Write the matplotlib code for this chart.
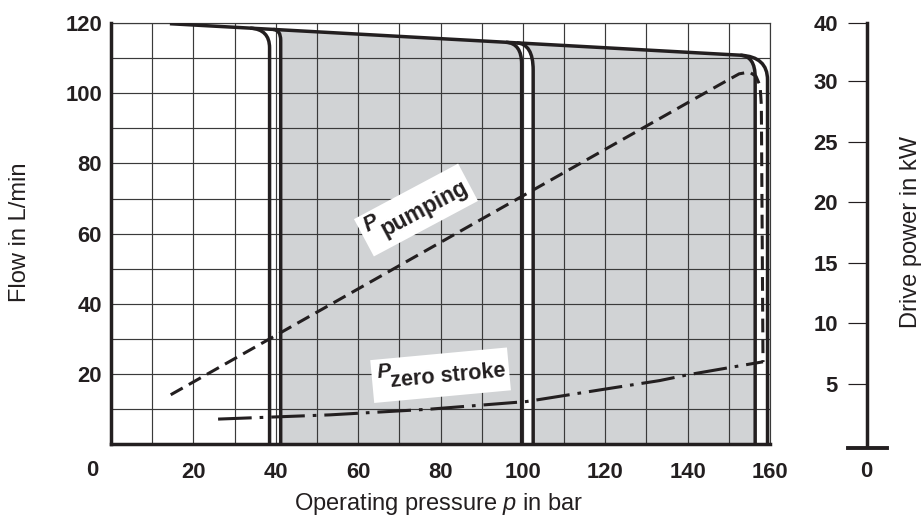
import numpy as np
import matplotlib
matplotlib.use("Agg")
import matplotlib.pyplot as plt
from matplotlib.path import Path
from matplotlib.patches import PathPatch, Rectangle
from matplotlib.transforms import Affine2D, ScaledTranslation

# ---------------- data ----------------
# top (flow) characteristic line: pressure in bar, flow in L/min
top_line_p = [14.3, 159.4]
top_line_q = [119.8, 110.4]

# pressure cut-off characteristics (pairs of curves)
cutoff_p = [38.5, 41.2, 99.7, 102.5, 156.4, 159.4]
corner_dp = [4.7, 1.8, 3.8, 4.0, 3.6, 6.5]      # bar, rounding width
corner_dq = [5.3, 3.0, 6.0, 7.5, 6.0, 6.6]      # L/min, rounding height

# shaded regions between cut-off curves (index pairs into cutoff_p)
shade_pairs = [(1, 2), (3, 4)]

# drive power curves (kW)
pumping_p = [14.5, 148.0, 152.5, 155.0, 156.6, 157.6, 157.9, 158.3]
pumping_kw = [4.1, 29.75, 30.6, 30.75, 30.4, 29.6, 28.0, 6.8]

zero_p = [26.0, 53.2, 77.4, 100.9, 118.7, 133.2, 139.9, 156.4, 158.3]
zero_kw = [2.09, 2.44, 2.91, 3.54, 4.50, 5.27, 5.74, 6.71, 6.82]

x_ticks = [20, 40, 60, 80, 100, 120, 140, 160]
y_ticks = [20, 40, 60, 80, 100, 120]
kw_ticks = [5, 10, 15, 20, 25, 30, 34.8]
kw_tick_labels = ["5", "10", "15", "20", "25", "30", "40"]
kw_axis_max = 34.8

# ---------------- style ----------------
plt.rcParams["font.family"] = ["Liberation Sans", "DejaVu Sans"]
plt.rcParams["mathtext.fontset"] = "custom"
plt.rcParams["mathtext.rm"] = "Liberation Sans"
plt.rcParams["mathtext.it"] = "Liberation Sans:italic"
plt.rcParams["mathtext.bf"] = "Liberation Sans:bold"

INK = "#231f20"
GRID = "#3a3a3a"
FILL = "#d1d3d5"
W, H = 921, 523
TFS = 15.8   # tick label size
LFS = 17     # axis title size

fig = plt.figure(figsize=(W / 100, H / 100), dpi=100)
ax = fig.add_axes([111 / W, (H - 444.4) / H, (770 - 111) / W, (444.4 - 23) / H])
ax.set_xlim(0, 160)
ax.set_ylim(0, 120)
ax.set_xticks(x_ticks)
ax.set_xticks(np.arange(10, 160, 20), minor=True)
ax.set_yticks(y_ticks)
ax.set_yticks(np.arange(10, 120, 20), minor=True)
ax.grid(True, which="both", color=GRID, lw=0.85)
ax.set_axisbelow(True)
ax.tick_params(which="both", length=0)
ax.tick_params(axis="x", pad=13, labelsize=TFS, labelcolor=INK)
ax.tick_params(axis="y", pad=6.5, labelsize=TFS, labelcolor=INK)
for lab in ax.get_xticklabels() + ax.get_yticklabels():
    lab.set_fontweight("bold")
for s in ["top", "right"]:
    ax.spines[s].set_linewidth(0.85)
    ax.spines[s].set_color(GRID)
for s in ["left", "bottom"]:
    ax.spines[s].set_linewidth(2.5)
    ax.spines[s].set_color(INK)
    ax.spines[s].set_zorder(4)
ax.annotate("0", xy=(0, 0), xycoords="data", xytext=(-19, -26), textcoords="offset pixels",
            ha="center", va="center", fontsize=TFS, fontweight="bold", color=INK)


def q_top(p):
    return np.interp(p, top_line_p, top_line_q)


def corner_vertices(i):
    pc = cutoff_p[i]
    p0 = pc - corner_dp[i]
    qc = q_top(pc)
    return (p0, q_top(p0)), (pc, qc), (pc, qc - corner_dq[i]), (pc, 0.0)


# shaded areas
for a, b in shade_pairs:
    sa, ca, ea, ba = corner_vertices(a)
    sb, cb, eb, bb = corner_vertices(b)
    verts = [ba, ea, ca, sa, sb, cb, eb, bb, ba]
    codes = [Path.MOVETO, Path.LINETO, Path.CURVE3, Path.CURVE3, Path.LINETO,
             Path.CURVE3, Path.CURVE3, Path.LINETO, Path.CLOSEPOLY]
    ax.add_patch(PathPatch(Path(verts, codes), facecolor=FILL, edgecolor="none", zorder=0.3))

LW = 2.5
# top line merged with outermost cut-off curve
last = len(cutoff_p) - 1
s, c, e, b = corner_vertices(last)
verts = [(top_line_p[0], top_line_q[0]), s, c, e, b]
codes = [Path.MOVETO, Path.LINETO, Path.CURVE3, Path.CURVE3, Path.LINETO]
ax.add_patch(PathPatch(Path(verts, codes), fill=False, lw=LW, edgecolor=INK,
                       capstyle="butt", joinstyle="round", zorder=3))
for i in range(last):
    s, c, e, b = corner_vertices(i)
    ax.add_patch(PathPatch(Path([s, c, e, b], [Path.MOVETO, Path.CURVE3, Path.CURVE3, Path.LINETO]),
                           fill=False, lw=LW, edgecolor=INK, capstyle="butt",
                           joinstyle="round", zorder=3))

# power axis overlay (same extent)
axp = ax.twinx()
axp.set_ylim(0, kw_axis_max)
axp.set_axis_off()
axp.plot(pumping_p, pumping_kw, color=INK, lw=2.2, linestyle=(0, (4.5, 2.3)),
         dash_capstyle="butt", zorder=4)
axp.plot(zero_p, zero_kw, color=INK, lw=2.2, linestyle=(0, (11, 2.6, 1.2, 2.6)),
         dash_capstyle="butt", zorder=4)


def label(p, q, ang, w, h, p_uv, sub, sub_uv, fs_p, fs_s):
    base = ScaledTranslation(p, q, ax.transData)
    rect = Rectangle((-w / 2, -h / 2), w, h, facecolor="white", edgecolor="none",
                     transform=Affine2D().rotate_deg(ang) + base, zorder=6)
    axp.add_patch(rect)
    rect.set_clip_on(False)
    axp.text(0, 0, "P", transform=Affine2D().translate(*p_uv).rotate_deg(ang) + base,
             rotation=ang, rotation_mode="anchor", ha="left", va="baseline",
             fontsize=fs_p, fontweight="bold", style="italic", color=INK, zorder=7)
    axp.text(0, 0, sub, transform=Affine2D().translate(*sub_uv).rotate_deg(ang) + base,
             rotation=ang, rotation_mode="anchor", ha="left", va="baseline",
             fontsize=fs_s, fontweight="bold", color=INK, zorder=7)


label(74.05, 66.74, 28.06, 118, 42.3, (-53, 3), "pumping", (-40, -9), 15.5, 16.3)
label(80.02, 19.70, 5.3, 137.3, 43, (-62.5, 3.4), "zero stroke", (-50, -7.5), 15.0, 15.6)

# right-hand power ruler
ax2 = fig.add_axes([848 / W, (H - 444.6) / H, 39 / W, (444.6 - 23) / H])
ax2.set_xlim(0, 1)
ax2.set_ylim(0, kw_axis_max)
ax2.patch.set_visible(False)
for s in ["top", "right"]:
    ax2.spines[s].set_visible(False)
ax2.spines["left"].set_position(("axes", 0.48))
ax2.spines["left"].set_linewidth(2.5)
ax2.spines["left"].set_color(INK)
ax2.spines["bottom"].set_position(("outward", 2.2))
ax2.spines["bottom"].set_linewidth(2.8)
ax2.spines["bottom"].set_color(INK)
ax2.set_xticks([])
ax2.set_yticks(kw_ticks)
ax2.set_yticklabels(kw_tick_labels)
ax2.tick_params(axis="y", direction="out", length=13.7, width=0.85, color=INK,
                pad=7, labelsize=TFS, labelcolor=INK)
for lab in ax2.get_yticklabels():
    lab.set_fontweight("bold")
ax2.annotate("0", xy=(0.48, 0), xycoords="axes fraction", xytext=(0, -26.5),
             textcoords="offset pixels", ha="center", va="center",
             fontsize=TFS, fontweight="bold", color=INK)

# axis titles
fig.text(20 / W, 1 - 232 / H, "Flow in L/min", rotation=90, ha="center", va="center",
         fontsize=LFS, color=INK)
fig.text(439 / W, 1 - 510 / H, "Operating pressure $p$ in bar", ha="center", va="baseline",
         fontsize=LFS, color=INK)
fig.text(911 / W, 1 - 232 / H, "Drive power in kW", rotation=90, ha="center", va="center",
         fontsize=LFS, color=INK)

fig.savefig("out.png", dpi=100)
